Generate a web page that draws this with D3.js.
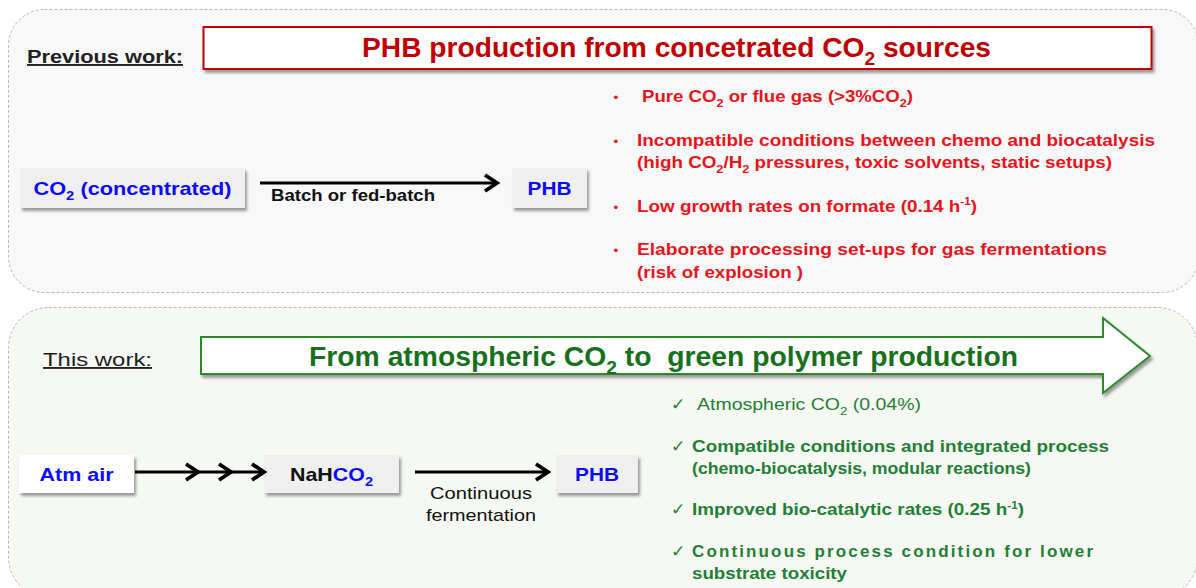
<!DOCTYPE html>
<html><head><meta charset="utf-8">
<script src="https://cdn.jsdelivr.net/npm/d3@7"></script>
<style>
html,body{margin:0;padding:0;background:#fff;}
svg{display:block;font-family:"Liberation Sans",Arial,sans-serif;}
</style></head>
<body>
<svg id="c" width="1196" height="588"></svg>
<script>
// ---- content (text data) ----
const prevHeader = "Previous work:";
const thisHeader = "This work:";
const prevTitle = "PHB production from concetrated CO_{2} sources";
const thisTitle = "From atmospheric CO_{2} to\u00a0 green polymer production";
const prevNodes = ["CO_{2} (concentrated)", "PHB"];
const prevEdgeLabel = ["Batch or fed-batch"];
const thisNodes = ["Atm air", "NaH[CO_{2}]", "PHB"];
const thisEdgeLabel = ["Continuous", "fermentation"];
const prevBullets = [
  ["Pure CO_{2} or flue gas (>3%CO_{2})"],
  ["Incompatible conditions between chemo and biocatalysis", "(high CO_{2}/H_{2} pressures, toxic solvents, static setups)"],
  ["Low growth rates on formate (0.14 h^{-1})"],
  ["Elaborate processing set-ups for gas fermentations", "(risk of explosion )"]
];
const thisBullets = [
  ["Atmospheric CO_{2} (0.04%)"],
  ["Compatible conditions and integrated process", "(chemo-biocatalysis, modular reactions)"],
  ["Improved bio-catalytic rates (0.25 h^{-1})"],
  ["Continuous process condition for lower", "substrate toxicity"]
];
const chevronCount = 3;

// ---- styles / layout ----
const RED_T = "#c00000", RED_B = "#e8141b", GREEN_T = "#17701c", GREEN_B = "#1f8035";
const BLUE = "#0a0aff", DARK = "#111";
const prevLineWidths = [[271],[518,475],[340],[470,166]];
const thisLineWidths = [[224],[417,339],[332],[401,155]];

const svg = d3.select("#c");
const defs = svg.append("defs");
const f = defs.append("filter").attr("id","sh").attr("x","-10%").attr("y","-20%").attr("width","130%").attr("height","160%");
f.append("feDropShadow").attr("dx",2).attr("dy",3).attr("stdDeviation",1.6).attr("flood-color","#000").attr("flood-opacity",0.38);

// rich text: _{..} subscript, ^{..} superscript, [..] alt-colour segment
function rich(sel, str, fs, baseColor, altColor, width, adjust) {
  const re = /(_\{[^}]*\}|\^\{[^}]*\}|\[|\])/g;
  let parts = str.split(re).filter(s => s !== "" && s !== undefined);
  let color = baseColor, shift = 0;
  parts.forEach(p => {
    if (p === "[") { color = altColor; return; }
    if (p === "]") { color = baseColor; return; }
    let t, dy = 0, size = fs;
    if (p.startsWith("_{")) { t = p.slice(2,-1); size = fs*0.68; dy = fs*0.28; }
    else if (p.startsWith("^{")) { t = p.slice(2,-1); size = fs*0.62; dy = -fs*0.38; }
    else { t = p; }
    const ts = sel.append("tspan").text(t).attr("fill", color).attr("font-size", size);
    const need = dy - shift;
    if (need !== 0) ts.attr("dy", need);
    shift = dy;
  });
  if (width) sel.attr("textLength", width).attr("lengthAdjust", adjust || "spacingAndGlyphs");
  return sel;
}

// ---- panels ----
svg.append("rect").attr("x",8.5).attr("y",9.5).attr("width",1190).attr("height",283).attr("rx",36)
  .attr("fill","#f8f8f8").attr("stroke","#b8b8b8").attr("stroke-dasharray","3,2");
svg.append("rect").attr("x",8.5).attr("y",307.5).attr("width",1189).attr("height",290).attr("rx",40)
  .attr("fill","#f6f8f4").attr("stroke","#b8b8b8").attr("stroke-dasharray","3,2");

// ---- headers ----
function header(x, y, txt, weight, w) {
  svg.append("text").attr("x",x).attr("y",y).attr("font-size",19).attr("font-weight",weight)
    .attr("fill","#222").attr("text-decoration","underline").attr("textLength",w)
    .attr("lengthAdjust","spacingAndGlyphs").text(txt);
}
header(27, 63, prevHeader, "bold", 156);
header(43, 366, thisHeader, "normal", 109);

// ---- title box (top) ----
svg.append("rect").attr("x",203.5).attr("y",27).attr("width",948).attr("height",42)
  .attr("fill","#fff").attr("stroke",RED_T).attr("stroke-width",2).attr("filter","url(#sh)");
rich(svg.append("text").attr("x",362).attr("y",57).attr("font-weight","bold"),
  prevTitle, 27, RED_T, RED_T, 629);

// ---- title arrow (bottom) ----
const arrowPts = [[201,337],[1103,337],[1103,318],[1150,356],[1103,393],[1103,374],[201,374]];
svg.append("path").attr("d", d3.line()(arrowPts) + "Z")
  .attr("fill","#fff").attr("stroke","#2a8a2a").attr("stroke-width",2).attr("filter","url(#sh)");
rich(svg.append("text").attr("x",309).attr("y",366).attr("font-weight","bold")
  .attr("xml:space","preserve"), thisTitle, 27, GREEN_T, GREEN_T, 709);

// ---- flow diagrams ----
function node(x, y, w, h, label, fill, tw) {
  svg.append("rect").attr("x",x).attr("y",y).attr("width",w).attr("height",h)
    .attr("fill",fill).attr("filter","url(#sh)");
  rich(svg.append("text").attr("x",x+w/2 - tw/2).attr("y",y+h/2+7).attr("font-weight","bold"),
    label, 19, label.includes("[") ? DARK : BLUE, BLUE, tw);
}
function chevron(x, y) {
  svg.append("path").attr("d", d3.line()([[x-12,y-8],[x,y],[x-12,y+8]]))
    .attr("fill","none").attr("stroke","#000").attr("stroke-width",3.8).attr("stroke-linejoin","miter");
}
function arrow(x1, x2, y, chevs) {
  svg.append("line").attr("x1",x1).attr("x2",x2-3).attr("y1",y).attr("y2",y).attr("stroke","#000").attr("stroke-width",3);
  const xs = chevs ? d3.range(chevs).map(i => x2 - (chevs-1-i)*33) : [x2];
  xs.forEach(cx => chevron(cx, y));
}

// previous work flow
const prevX = d3.scaleOrdinal().domain(prevNodes).range([[20,225,198],[512,75,44]]);
prevNodes.forEach(n => { const [x,w,tw] = prevX(n); node(x,168,w,40,n,"#efefef",tw); });
arrow(260, 497, 183, 0);
prevEdgeLabel.forEach((l,i) => svg.append("text").attr("x",271).attr("y",201+i*20).attr("font-size",16)
  .attr("font-weight","bold").attr("fill",DARK).attr("textLength",164).attr("lengthAdjust","spacingAndGlyphs").text(l));

// this work flow
const thisX = d3.scaleOrdinal().domain(thisNodes)
  .range([[19,115,"#ffffff",74],[264,135,"#efefef",83],[556,82,"#efefef",44]]);
thisNodes.forEach(n => { const [x,w,fl,tw] = thisX(n); node(x,455,w,38,n,fl,tw); });
arrow(135, 264, 472, chevronCount);
arrow(415, 548, 472, 0);
const edgeW = [102, 110];
thisEdgeLabel.forEach((l,i) => svg.append("text").attr("x",481 - edgeW[i]/2).attr("y",499+i*22)
  .attr("font-size",17).attr("fill",DARK).attr("textLength",edgeW[i]).attr("lengthAdjust","spacingAndGlyphs").text(l));

// ---- bullet lists ----
function bullets(list, widths, x0, y0, lineH, gap, color, marker, markerX, markerSize, opts) {
  let y = y0;
  list.forEach((lines, bi) => {
    svg.append("text").attr("x",markerX).attr("y",y).attr("font-size",markerSize).attr("fill",color)
      .attr("font-family","DejaVu Sans").text(marker);
    lines.forEach((ln, li) => {
      const o = (opts[bi] && opts[bi][li]) || {};
      const t = svg.append("text").attr("x", o.x || x0).attr("y", y + li*lineH)
        .attr("font-weight", o.weight || "bold").attr("xml:space","preserve");
      rich(t, ln, o.size || 17, color, color, widths[bi][li], o.adjust);
    });
    y += lines.length*lineH + gap;
  });
}
bullets(prevBullets, prevLineWidths, 637, 102, 22.5, 21, RED_B, "•", 612, 13,
  {0:{0:{x:642}}});
bullets(thisBullets, thisLineWidths, 692, 410, 22, 19.5, GREEN_B, "✓", 671, 17,
  {0:{0:{x:697, weight:"normal"}}, 3:{0:{adjust:"spacing"}}});
</script>
</body></html>
